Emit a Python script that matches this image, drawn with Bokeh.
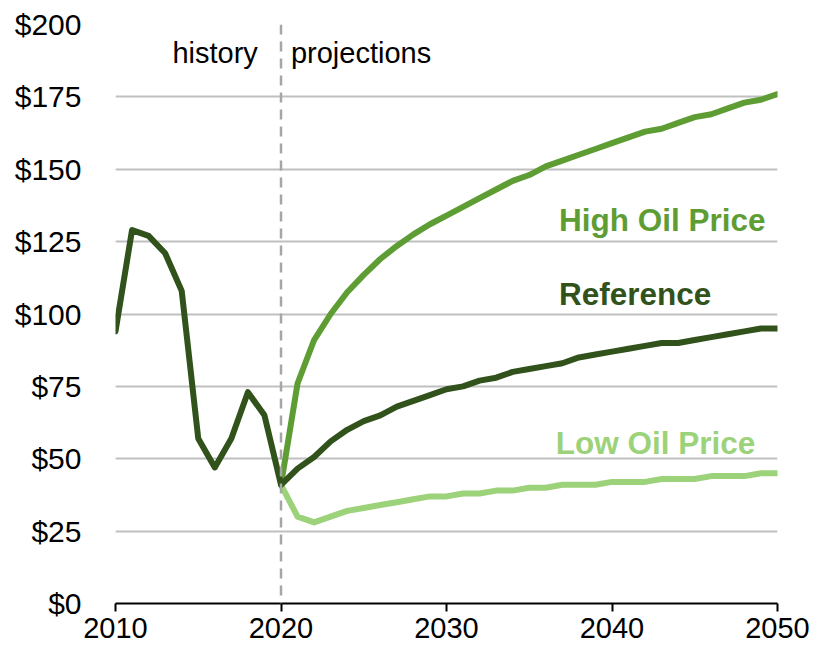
from bokeh.plotting import figure
from bokeh.models import FixedTicker, PrintfTickFormatter, Span, Label
from bokeh.embed import file_html
from bokeh.resources import INLINE

years_ref = list(range(2010, 2051))
reference = [94, 129, 127, 121, 108, 57, 47, 57, 73, 65,
             41, 46.6, 50.6, 56, 60, 63, 65, 68, 70, 72,
             74, 75, 77, 78, 80, 81, 82, 83, 85, 86,
             87, 88, 89, 90, 90, 91, 92, 93, 94, 95, 95]

years_proj = list(range(2020, 2051))
high = [41, 76, 91, 100, 107.5, 113.5, 119, 123.5, 127.5, 131,
        134, 137, 140, 143, 146, 148, 151, 153, 155, 157,
        159, 161, 163, 164, 166, 168, 169, 171, 173, 174, 176]
low = [41, 30, 28, 30, 32, 33, 34, 35, 36, 37,
       37, 38, 38, 39, 39, 40, 40, 41, 41, 41,
       42, 42, 42, 43, 43, 43, 44, 44, 44, 45, 45]

x_ticks = [2010, 2020, 2030, 2040, 2050]
y_ticks = [0, 25, 50, 75, 100, 125, 150, 175, 200]

C_HIGH = "#5E9D34"
C_REF = "#31521B"
C_LOW = "#9CD27A"
FONT = "Liberation Sans"

p = figure(width=813, height=646, x_range=(2010, 2050), y_range=(0, 200),
           output_backend="svg", toolbar_location=None,
           min_border_left=115, min_border_right=36, min_border_top=24, min_border_bottom=43)
p.outline_line_color = None
p.background_fill_color = "white"
p.border_fill_color = "white"

p.xgrid.grid_line_color = None
p.ygrid.ticker = FixedTicker(ticks=y_ticks)
p.ygrid.grid_line_color = "#C0C0C0"
p.ygrid.grid_line_width = 2

p.xaxis.ticker = FixedTicker(ticks=x_ticks)
p.xaxis.axis_line_color = "black"
p.xaxis.axis_line_width = 2
p.xaxis.major_tick_line_color = "black"
p.xaxis.major_tick_line_width = 2
p.xaxis.major_tick_in = 0
p.xaxis.major_tick_out = 8
p.xaxis.minor_tick_line_color = None
p.xaxis.major_label_standoff = 6
p.xaxis.major_label_text_font = FONT
p.xaxis.major_label_text_font_size = "29px"
p.xaxis.major_label_text_color = "black"

p.yaxis.ticker = FixedTicker(ticks=y_ticks)
p.yaxis.formatter = PrintfTickFormatter(format="$%d")
p.yaxis.axis_line_color = None
p.yaxis.major_tick_line_color = None
p.yaxis.minor_tick_line_color = None
p.yaxis.major_label_standoff = 28
p.yaxis.major_label_text_font = FONT
p.yaxis.major_label_text_font_size = "30px"
p.yaxis.major_label_text_color = "black"

p.add_layout(Span(location=2020, dimension="height", line_color="#A6A6A6",
                  line_width=2.5, line_dash="10 7"))

p.line(years_proj, low, line_color=C_LOW, line_width=6, line_join="round", line_cap="round")
p.line(years_proj, high, line_color=C_HIGH, line_width=6, line_join="round", line_cap="round")
p.line(years_ref, reference, line_color=C_REF, line_width=6, line_join="round", line_cap="round")

p.add_layout(Label(x=2018.6, y=190, text="history", text_font=FONT, text_font_size="29px",
                   text_color="black", text_align="right", text_baseline="middle"))
p.add_layout(Label(x=2020.6, y=190, text="projections", text_font=FONT, text_font_size="29px",
                   text_color="black", text_align="left", text_baseline="middle"))

p.add_layout(Label(x=2036.8, y=132.3, text="High Oil Price", text_font=FONT, text_font_size="31.5px",
                   text_font_style="bold", text_color=C_HIGH, text_baseline="middle"))
p.add_layout(Label(x=2036.8, y=106.9, text="Reference", text_font=FONT, text_font_size="31.5px",
                   text_font_style="bold", text_color=C_REF, text_baseline="middle"))
p.add_layout(Label(x=2036.6, y=55.4, text="Low Oil Price", text_font=FONT, text_font_size="31.5px",
                   text_font_style="bold", text_color=C_LOW, text_baseline="middle"))

open("out.html", "w").write(file_html(p, INLINE))
